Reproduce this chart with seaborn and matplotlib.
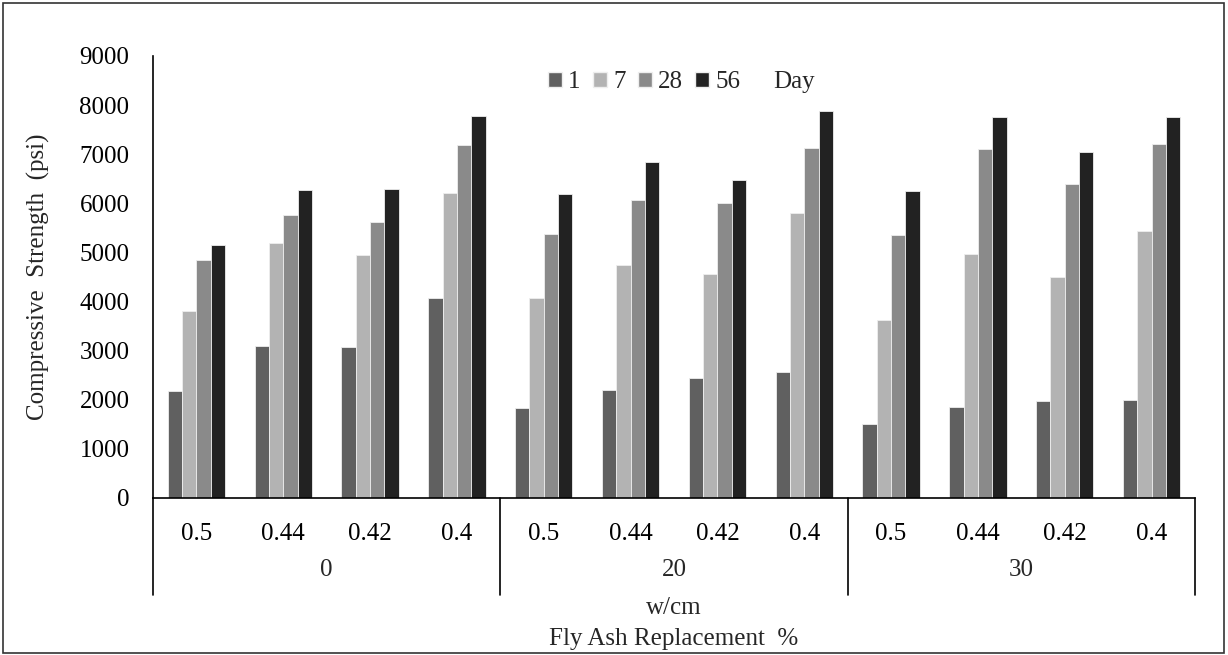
import numpy as np
import pandas as pd
import matplotlib
matplotlib.use("Agg")
import matplotlib.pyplot as plt
import matplotlib.transforms as mtransforms
from matplotlib.patches import Patch, Rectangle
import seaborn as sns

# data
fly_ash = ["0", "20", "30"]
w_cm = ["0.5", "0.44", "0.42", "0.4"]
days = ["1", "7", "28", "56"]
day1 = [2170, 3100, 3080, 4070, 1830, 2190, 2440, 2570, 1500, 1850, 1970, 2000]
day7 = [3800, 5200, 4940, 6210, 4080, 4750, 4560, 5800, 3630, 4960, 4510, 5440]
day28 = [4850, 5760, 5610, 7180, 5380, 6060, 6010, 7130, 5360, 7100, 6400, 7200]
day56 = [5160, 6280, 6300, 7780, 6180, 6840, 6480, 7890, 6260, 7750, 7050, 7750]
colors = ["#606060", "#b3b3b3", "#8a8a8a", "#222222"]

sns.set_theme(style="white")
plt.rcParams["font.family"] = ["Liberation Serif", "DejaVu Serif"]
FS = 18

cats = [f"{fa}|{w}" for fa in fly_ash for w in w_cm]
rows = []
for d, vals in zip(days, [day1, day7, day28, day56]):
    for c, v in zip(cats, vals):
        rows.append({"cat": c, "day": d, "psi": v})
df = pd.DataFrame(rows)

fig = plt.figure(figsize=(12.28, 6.55), dpi=100)
ax = fig.add_axes([153 / 1228, 1 - 498 / 655, 1042 / 1228, 442 / 655])

sns.barplot(data=df, x="cat", y="psi", hue="day", order=cats, hue_order=days,
            palette=colors, width=0.66, edgecolor="#eeeeee", linewidth=0.6,
            saturation=1, ax=ax, legend=False)

ax.set_xlim(-0.5, len(cats) - 0.5)
ax.set_ylim(0, 9000)
ax.set_yticks(np.arange(0, 9001, 1000))
ax.tick_params(axis="y", length=0, labelsize=FS, pad=17, colors="black")
ax.set_xticks(range(len(cats)))
ax.set_xticklabels([c.split("|")[1] for c in cats], fontsize=FS)
ax.tick_params(axis="x", length=0, pad=18, colors="black")
ax.set_xlabel("")
ax.set_ylabel("Compressive  Strength  (psi)", fontsize=FS, labelpad=21)

sns.despine(ax=ax)
for s in ["left", "bottom"]:
    ax.spines[s].set_color("black")
    ax.spines[s].set_linewidth(1.2)

# multi-level category axis
trans = mtransforms.blended_transform_factory(ax.transData, ax.transAxes)
for i in range(len(fly_ash) + 1):
    xb = i * len(w_cm) - 0.5
    ax.plot([xb, xb], [0, -0.22], color="black", lw=1.2, transform=trans,
            clip_on=False)
for i, fa in enumerate(fly_ash):
    xc = i * len(w_cm) + (len(w_cm) - 1) / 2
    ax.text(xc, -0.162, fa, transform=trans, ha="center", va="center",
            fontsize=FS)
ax.text(0.5, -0.25, "w/cm", transform=ax.transAxes, ha="center",
        va="center", fontsize=FS)
ax.text(0.5, -0.318, "Fly Ash Replacement  %", transform=ax.transAxes,
        ha="center", va="center", fontsize=FS)

handles = [Patch(facecolor=c, edgecolor="#eeeeee") for c in colors]
handles.append(Patch(visible=False))
ax.legend(handles, days + ["Day"], loc="center", bbox_to_anchor=(0.507, 0.941),
          ncol=5, frameon=False, fontsize=FS, handlelength=0.55,
          handleheight=0.55, handletextpad=0.25, columnspacing=0.5)

fig.patches.append(Rectangle((3 / 1228, 2 / 655), 1221 / 1228, 650 / 655,
                             transform=fig.transFigure, fill=False,
                             edgecolor="#333333", lw=1.2))

fig.savefig("out.png", dpi=100)
